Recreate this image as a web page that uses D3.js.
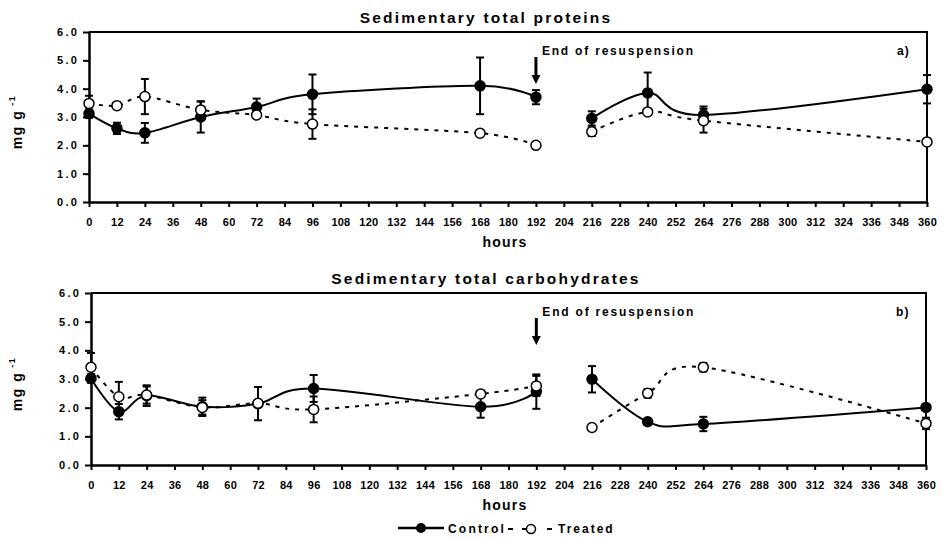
<!DOCTYPE html>
<html>
<head>
<meta charset="utf-8">
<script src="https://cdn.jsdelivr.net/npm/d3@7"></script>
<style>
  body { margin: 0; background: #fff; }
  svg text { font-family: "Liberation Sans", Arial, sans-serif; font-weight: bold; fill: #000; }
</style>
</head>
<body>
<svg id="chart" width="943" height="540"></svg>
<script>
// hours sampled
const hours = [0, 12, 24, 48, 72, 96, 168, 192, 216, 240, 264, 360];
const xTicks = d3.range(0, 361, 12);
const yTicks = [0, 1, 2, 3, 4, 5, 6];

// a) proteins (mg g-1)
const protControl = [3.12, 2.6, 2.44, 3.0, 3.35, 3.8, 4.1, 3.7, 2.95, 3.85, 3.07, 3.98];
const protControlErr = [0.15, 0.2, 0.35, 0.55, 0.3, 0.7, 1.0, 0.25, 0.25, 0.72, 0.3, 0.5];
const protTreated = [3.48, 3.4, 3.72, 3.25, 3.07, 2.75, 2.43, 2.0, 2.48, 3.18, 2.87, 2.12];
const protTreatedErr = [0.27, 0.05, 0.62, 0.3, 0.05, 0.52, 0.05, 0.05, 0.15, 0.05, 0.42, 0.05];

// b) carbohydrates (mg g-1)
const carbControl = [3.02, 1.86, 2.42, 2.03, 2.14, 2.67, 2.03, 2.56, 2.99, 1.51, 1.43, 2.01];
const carbControlErr = [0.15, 0.27, 0.36, 0.32, 0.58, 0.47, 0.38, 0.6, 0.46, 0.1, 0.25, 0.08];
const carbTreated = [3.41, 2.38, 2.44, 2.01, 2.15, 1.94, 2.48, 2.76, 1.31, 2.5, 3.41, 1.45];
const carbTreatedErr = [0.5, 0.52, 0.3, 0.25, 0.05, 0.45, 0.05, 0.35, 0.05, 0.15, 0.15, 0.2];

const panels = [
  { title: "Sedimentary total proteins", tag: "a)", top: 32, bottom: 202, left: 89, right: 927,
    control: protControl, controlErr: protControlErr, treated: protTreated, treatedErr: protTreatedErr },
  { title: "Sedimentary total carbohydrates", tag: "b)", top: 293, bottom: 465, left: 91, right: 926,
    control: carbControl, controlErr: carbControlErr, treated: carbTreated, treatedErr: carbTreatedErr }
];

const svg = d3.select("#chart");

panels.forEach(p => {
  const x = d3.scaleLinear().domain([0, 360]).range([p.left, p.right]);
  const y = d3.scaleLinear().domain([0, 6]).range([p.bottom, p.top]);
  const g = svg.append("g");

  // frame top / right
  g.append("path")
    .attr("d", `M${p.left},${p.top}H${p.right}V${p.bottom}`)
    .attr("fill", "none").attr("stroke", "#000").attr("stroke-width", 2);

  const xAxis = g.append("g")
    .attr("transform", `translate(0,${p.bottom})`)
    .call(d3.axisBottom(x).tickValues(xTicks).tickSize(5).tickPadding(11).tickSizeOuter(0));
  const yAxis = g.append("g")
    .attr("transform", `translate(${p.left},0)`)
    .call(d3.axisLeft(y).tickValues(yTicks).tickSize(6).tickPadding(4).tickFormat(d3.format(".1f")).tickSizeOuter(0));
  [xAxis, yAxis].forEach(a => {
    a.attr("font-family", null);
    a.select(".domain").attr("stroke-width", 2.5);
    a.selectAll(".tick line").attr("stroke-width", 2);
    a.selectAll("text").attr("font-size", 11);
  });
  xAxis.selectAll("text").style("letter-spacing", "0.2px");
  yAxis.selectAll("text").style("letter-spacing", "2.2px");

  g.append("text")
    .attr("x", 486).attr("y", p.top - 9)
    .attr("text-anchor", "middle").attr("font-size", 15.5)
    .style("letter-spacing", "2.2px")
    .text(p.title);

  g.append("text")
    .attr("x", 505).attr("y", p.bottom + 45)
    .attr("text-anchor", "middle").attr("font-size", 14)
    .style("letter-spacing", "1.2px")
    .text("hours");

  const yl = g.append("text")
    .attr("transform", `translate(22,${(p.top + p.bottom) / 2 + 5}) rotate(-90)`)
    .attr("text-anchor", "middle").attr("font-size", 14)
    .style("letter-spacing", "1.5px");
  yl.append("tspan").text("mg g");
  yl.append("tspan").attr("dy", -7).attr("font-size", 9).text(" -1");

  g.append("text")
    .attr("x", x(360) - 30).attr("y", p.top + 23)
    .attr("font-size", 12).style("letter-spacing", "1.2px")
    .text(p.tag);

  // end of resuspension
  const ax = x(192);
  g.append("text")
    .attr("x", ax + 6).attr("y", p.top + 23)
    .attr("font-size", 12).style("letter-spacing", "1.8px")
    .text("End of resuspension");
  g.append("line")
    .attr("x1", ax).attr("x2", ax)
    .attr("y1", p.top + 25).attr("y2", p.top + 44)
    .attr("stroke", "#000").attr("stroke-width", 3);
  g.append("path")
    .attr("d", `M${ax - 4.5},${p.top + 43}L${ax + 4.5},${p.top + 43}L${ax},${p.top + 52}Z`)
    .attr("fill", "#000");

  const series = [
    { vals: p.control, err: p.controlErr, fill: "#000", dash: null },
    { vals: p.treated, err: p.treatedErr, fill: "#fff", dash: "4,6" }
  ];

  const line = d3.line()
    .x(d => x(d.h)).y(d => y(d.v))
    .curve(d3.curveCardinal.tension(0));

  series.forEach(s => {
    const pts = hours.map((h, i) => ({ h, v: s.vals[i], e: s.err[i] }));
    const segs = [pts.filter(d => d.h <= 192), pts.filter(d => d.h > 192)];
    g.append("g").selectAll("path").data(segs).join("path")
      .attr("d", line)
      .attr("fill", "none").attr("stroke", "#000")
      .attr("stroke-width", 2)
      .attr("stroke-dasharray", s.dash);

    const eb = g.append("g").attr("stroke", "#000").attr("stroke-width", 2);
    eb.selectAll(".v").data(pts).join("line")
      .attr("x1", d => x(d.h)).attr("x2", d => x(d.h))
      .attr("y1", d => y(d.v - d.e)).attr("y2", d => y(d.v + d.e));
    eb.selectAll(".c1").data(pts).join("line")
      .attr("x1", d => x(d.h) - 4).attr("x2", d => x(d.h) + 4)
      .attr("y1", d => y(d.v + d.e)).attr("y2", d => y(d.v + d.e));
    eb.selectAll(".c2").data(pts).join("line")
      .attr("x1", d => x(d.h) - 4).attr("x2", d => x(d.h) + 4)
      .attr("y1", d => y(d.v - d.e)).attr("y2", d => y(d.v - d.e));
  });

  series.forEach(s => {
    g.append("g").selectAll("circle").data(hours).join("circle")
      .attr("cx", h => x(h)).attr("cy", (h, i) => y(s.vals[i]))
      .attr("r", 5).attr("fill", s.fill)
      .attr("stroke", "#000").attr("stroke-width", 1.5);
  });
});

// legend
const lg = svg.append("g");
lg.append("line").attr("x1", 398).attr("x2", 444).attr("y1", 528).attr("y2", 528)
  .attr("stroke", "#000").attr("stroke-width", 2.5);
lg.append("circle").attr("cx", 421).attr("cy", 528).attr("r", 5).attr("fill", "#000");
lg.append("text").attr("x", 448).attr("y", 533).attr("font-size", 12)
  .style("letter-spacing", "2.2px").text("Control");
lg.append("line").attr("x1", 508).attr("x2", 553).attr("y1", 529).attr("y2", 529)
  .attr("stroke", "#000").attr("stroke-width", 2).attr("stroke-dasharray", "5,9,5,20,5");
lg.append("circle").attr("cx", 531).attr("cy", 529).attr("r", 4.5).attr("fill", "#fff")
  .attr("stroke", "#000").attr("stroke-width", 1.5);
lg.append("text").attr("x", 558).attr("y", 533).attr("font-size", 12)
  .style("letter-spacing", "2px").text("Treated");
</script>
</body>
</html>
